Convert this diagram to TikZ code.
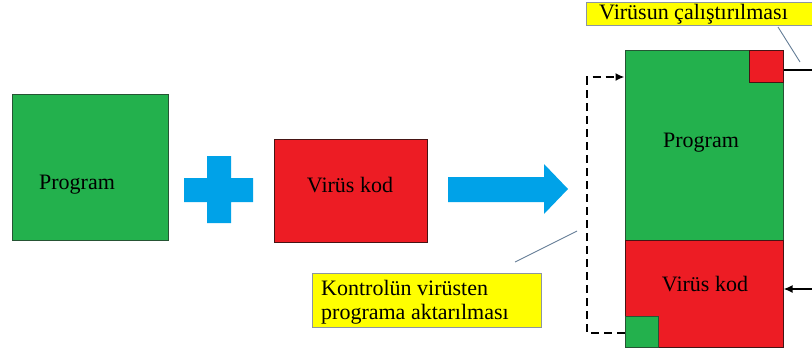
\documentclass[tikz,border=0pt]{standalone}
\usepackage{fontspec}
\setmainfont{Liberation Serif}
\usetikzlibrary{arrows.meta}
\definecolor{pgreen}{RGB}{35,177,77}
\definecolor{pgreenedge}{RGB}{38,84,52}
\definecolor{vred}{RGB}{237,28,36}
\definecolor{vrededge}{RGB}{70,20,20}
\definecolor{pblue}{RGB}{0,162,232}
\definecolor{lyellow}{RGB}{255,255,0}
\definecolor{ledge}{RGB}{140,150,160}
\definecolor{callout}{RGB}{100,125,150}
\tikzset{
  txt/.style={font=\fontsize{22}{24}\selectfont, inner sep=0pt},
  greenbox/.style={draw=pgreenedge, fill=pgreen, line width=1pt, inner sep=0pt},
  redbox/.style={draw=vrededge, fill=vred, line width=1pt, inner sep=0pt},
  labelbox/.style={draw=ledge, fill=lyellow, line width=0.8pt},
  calloutline/.style={draw=callout, line width=0.9pt},
  link/.style={draw=black, line width=2.4pt, -{Latex[length=9pt,width=8pt]}},
  dashlink/.style={link, dash pattern=on 8pt off 5pt}
}
\begin{document}
\begin{tikzpicture}[x=1pt,y=-1pt]
\useasboundingbox (0,0) rectangle (812,354);
\clip (0,0) rectangle (812,354);

% left: the plain program
\node[greenbox, minimum width=156pt, minimum height=146pt] (prog) at (90,167) {};
\node[txt] (progtxt) at (77,185) {Program};

% plus sign
\fill[pblue] (207,156) -- (231,156) -- (231,178) -- (253,178) -- (253,202)
  -- (231,202) -- (231,223) -- (207,223) -- (207,202) -- (184,202)
  -- (184,178) -- (207,178) -- cycle;

% virus code
\node[redbox, minimum width=153pt, minimum height=103pt] (vir) at (350.5,190.5) {};
\node[txt] (virtxt) at (350,185) {Virüs kod};

% big arrow
\fill[pblue] (448,177) -- (544,177) -- (544,164) -- (568,189) -- (544,214)
  -- (544,202) -- (448,202) -- cycle;

% infected program
\node[greenbox, minimum width=158pt, minimum height=190pt] (iprog) at (704,145) {};
\node[redbox, minimum width=158pt, minimum height=107pt] (ivir) at (704,293.5) {};
\node[redbox, minimum width=34pt, minimum height=32pt] (entry) at (766,66) {};
\node[greenbox, minimum width=33pt, minimum height=31pt] (back) at (641.5,331.5) {};
\node[txt] (iprogtxt) at (701,143) {Program};
\node[txt] (ivirtxt) at (705,284) {Virüs kod};

% control transfer from the virus back to the program
\coordinate (dl) at (587,333);
\coordinate (ul) at (587,77);
\draw[dashlink] (back.west |- dl) -- (dl) -- (ul) -- (iprog.west |- ul);

% execution enters the virus part
\coordinate (outR) at (812,70);
\coordinate (inR) at (812,289);
\draw[line width=2.4pt] (entry.east |- outR) -- (outR);
\draw[link] (inR) -- (ivir.east |- inR);

% labels
\node[labelbox, minimum width=240pt, minimum height=23pt, anchor=north west,
  inner sep=0pt] (runlbl) at (586,2) {};
\node[txt, anchor=west] (runtxt) at (599,14) {Virüsun çalıştırılması};
\coordinate (runtip) at (800,62);
\draw[calloutline] (778,27) -- (runtip);

\node[labelbox, minimum width=229pt, minimum height=54pt, anchor=north west,
  inner sep=0pt] (ctllbl) at (312,273) {};
\node[txt, anchor=west, align=left] (ctltxt) at (321,302)
  {Kontrolün virüsten\\programa aktarılması};
\coordinate (ctltip) at (577,231);
\draw[calloutline] (515,262) -- (ctltip);
\end{tikzpicture}
\end{document}
